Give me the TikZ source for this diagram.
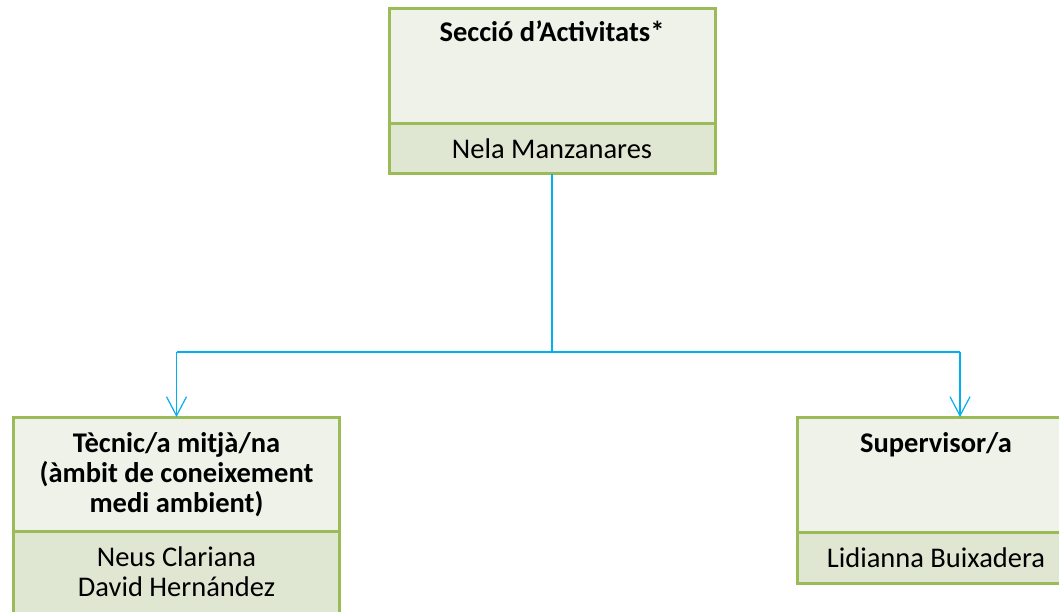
\documentclass[tikz,border=0pt]{standalone}
\usepackage{fontspec}
\setmainfont{Carlito}
\usetikzlibrary{arrows.meta,positioning}

\definecolor{boxgreen}{HTML}{9BBB59}
\definecolor{toppale}{HTML}{EFF2E9}
\definecolor{lowpale}{HTML}{DFE6D2}
\definecolor{linkblue}{HTML}{00B0F0}

\begin{document}
\begin{tikzpicture}[x=1pt, y=-1pt,
  upper/.style={draw=boxgreen, line width=3pt, fill=toppale,
    minimum width=326pt, inner sep=0pt, outer sep=0pt},
  lower/.style={draw=boxgreen, line width=3pt, fill=lowpale,
    minimum width=326pt, inner sep=0pt, outer sep=0pt, align=center,
    font=\fontsize{28.5}{30}\selectfont},
  headtext/.style={align=center, inner sep=0pt, anchor=base,
    font=\fontsize{28.5}{30}\selectfont\bfseries},
  trunk/.style={linkblue, line width=2pt},
  drop/.style={linkblue, line width=1.2pt, -{Straight Barb[length=19pt, width=20pt]}}]

\useasboundingbox (0,0) rectangle (1059,612);
\clip (0,0) rectangle (1059,612);

% section box
\node[upper, minimum height=115pt] (sec) at (552,66.5) {};
\node[lower, minimum height=50pt, below=0pt of sec] (secname) {Nela Manzanares};
\node[headtext] (sectitle) at ([yshift=-33pt]sec.north) {Secció d’Activitats*};

% technician box (base of the last line)
\node[upper, minimum height=114pt] (tec) at (176.5,474) {};
\node[lower, minimum height=82pt, below=0pt of tec] (tecname)
  {Neus Clariana\\David Hernández};
\node[headtext] (tectitle) at ([yshift=-95pt]tec.north)
  {Tècnic/a mitjà/na\\(àmbit de coneixement\\medi ambient)};

% supervisor box, runs off the right edge
\node[upper, minimum width=278pt, minimum height=115pt] (sup) at (936,474.5) {};
\node[lower, minimum width=278pt, minimum height=51pt, below=0pt of sup] (supname)
  {Lidianna Buixadera};
\node[headtext] (suptitle) at ([yshift=-35pt]sup.north) {Supervisor/a};

% connectors
\coordinate (split) at (552,352);
\coordinate (suparrow) at ([xshift=24pt]sup.north);
\draw[trunk] (secname.south) -- (split);
\draw[trunk] (tec.north |- split) -- (suparrow |- split);
\draw[drop] (tec.north |- split) -- (tec.north);
\draw[drop] (suparrow |- split) -- (suparrow);

\end{tikzpicture}
\end{document}
